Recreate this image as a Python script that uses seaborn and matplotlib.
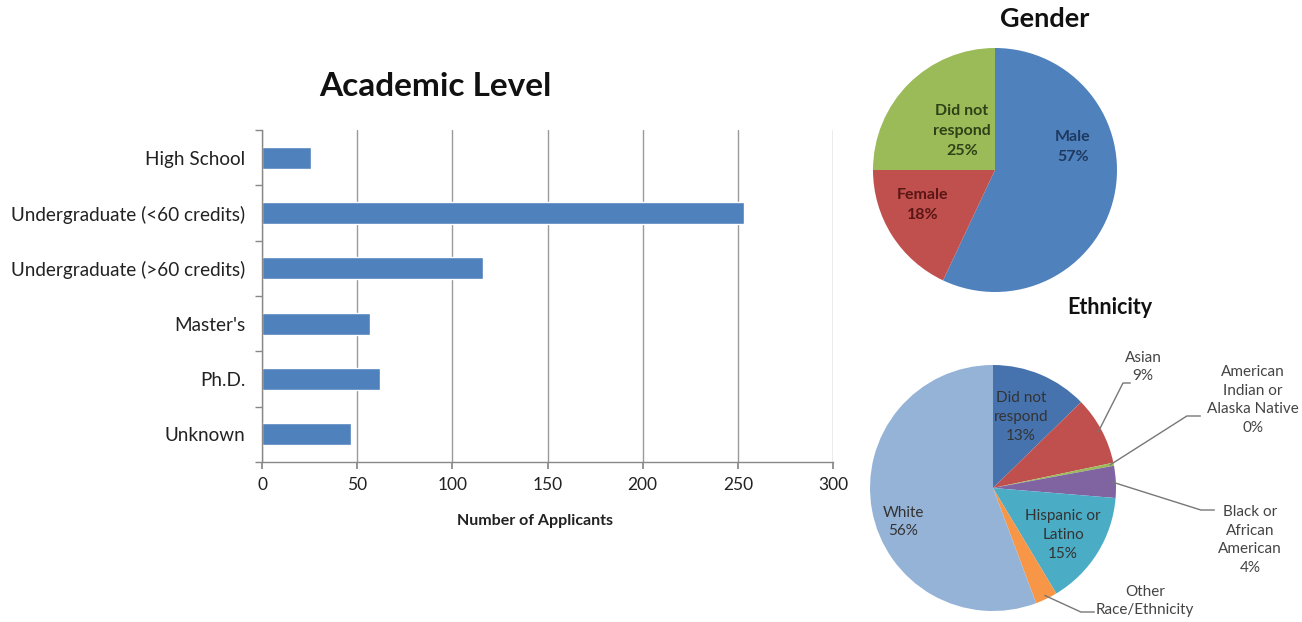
import numpy as np
import pandas as pd
import matplotlib
matplotlib.use("Agg")
import matplotlib.pyplot as plt
import seaborn as sns

# ---------------- data ----------------
levels = ["High School", "Undergraduate (<60 credits)", "Undergraduate (>60 credits)",
          "Master's", "Ph.D.", "Unknown"]
applicants = [26, 253, 116, 57, 62, 47]
x_ticks = [0, 50, 100, 150, 200, 250, 300]

gender_labels = ["Male", "Female", "Did not\nrespond"]
gender_values = [57, 18, 25]
gender_pct = ["57%", "18%", "25%"]

eth_labels = ["Did not\nrespond", "Asian", "American\nIndian or\nAlaska Native",
              "Black or\nAfrican\nAmerican", "Hispanic or\nLatino", "Other\nRace/Ethnicity", "White"]
eth_values = [12.7, 9.0, 0.4, 4.2, 15.1, 2.9, 55.7]
eth_pct = ["13%", "9%", "0%", "4%", "15%", "", "56%"]

# ---------------- style ----------------
sns.set_theme(style="white")
plt.rcParams['font.family'] = ['Lato', 'DejaVu Sans']

W, H = 1302, 622
fig = plt.figure(figsize=(W / 100, H / 100), dpi=100)
fig.patch.set_facecolor("white")

def box(x0, y0, x1, y1):
    return [x0 / W, 1 - y1 / H, (x1 - x0) / W, (y1 - y0) / H]

# ---------------- bar chart ----------------
ax = fig.add_axes(box(262, 130, 833, 462))
df = pd.DataFrame({"level": levels, "n": applicants})
sns.barplot(data=df, y="level", x="n", orient="h", color="#4F81BD",
            saturation=1, width=0.4, ax=ax)
ax.set_xlim(0, 300)
ax.set_ylim(len(levels) - 0.5, -0.5)
ax.set_xticks(x_ticks)
ax.set_xticklabels([str(t) for t in x_ticks], fontsize=12.5, color="#222222")
ax.set_yticks(range(len(levels)))
ax.set_yticklabels(levels, fontsize=13.6, color="#222222")
ax.set_yticks(np.arange(-0.5, len(levels), 1), minor=True)
ax.tick_params(axis="y", which="major", length=0, pad=12)
ax.tick_params(axis="y", which="minor", length=5, color="#888888", width=1, left=True)
ax.tick_params(axis="x", which="major", length=5, color="#888888", bottom=True, pad=6)
ax.xaxis.grid(True, color="#9a9a9a", linewidth=1)
ax.yaxis.grid(False)
ax.set_axisbelow(True)
for s in ["top", "right"]:
    ax.spines[s].set_visible(False)
for s in ["left", "bottom"]:
    ax.spines[s].set_color("#888888")
    ax.spines[s].set_linewidth(1)
ax.set_ylabel("")
ax.set_xlabel("")
fig.text(535 / W, 1 - 521 / H, "Number of Applicants", ha="center", va="center",
         fontsize=11.5, fontweight="bold", color="#222222")
fig.text(435 / W, 1 - 87 / H, "Academic Level", ha="center", va="center",
         fontsize=24, fontweight="bold", color="#111111")

# ---------------- gender pie ----------------
r = 122
axg = fig.add_axes(box(995 - r, 170 - r, 995 + r, 170 + r))
gcols = ["#4F81BD", "#C0504D", "#9BBB59"]
axg.pie(gender_values, colors=gcols, startangle=90, counterclock=False, radius=1,
        wedgeprops=dict(linewidth=0))
axg.set_xlim(-1, 1)
axg.set_ylim(-1, 1)
axg.set_aspect("equal")
axg.axis("off")

def gpos(px, py):
    return ((px - 995) / r, (170 - py) / r)

gtext_pos = [gpos(1073, 147), gpos(923, 205), gpos(962, 131)]
gtext_cols = ["#1F3A60", "#5A1614", "#2E4217"]
for lab, pct, pos, c in zip(gender_labels, gender_pct, gtext_pos, gtext_cols):
    axg.text(pos[0], pos[1], f"{lab}\n{pct}", ha="center", va="center", fontsize=11.5,
             fontweight="bold", color=c, linespacing=1.55)
fig.text(1045 / W, 1 - 19 / H, "Gender", ha="center", va="center", fontsize=19.5,
         fontweight="bold", color="#111111")

# ---------------- ethnicity pie ----------------
re_ = 123
cx, cy = 993, 488
axe = fig.add_axes(box(cx - re_, cy - re_, cx + re_, cy + re_))
ecols = ["#4672AE", "#C0504D", "#9BBB59", "#8064A2", "#4BACC6", "#F79646", "#95B3D7"]
wedges, _ = axe.pie(eth_values, colors=ecols, startangle=90, counterclock=False, radius=1,
                    wedgeprops=dict(linewidth=0))
axe.set_xlim(-1, 1)
axe.set_ylim(-1, 1)
axe.set_aspect("equal")
axe.axis("off")

def epos(px, py):
    return ((px - cx) / re_, (cy - py) / re_)

inside = {0: epos(1021, 417), 4: epos(1063, 535), 6: epos(903, 522)}
outside = {1: (epos(1143, 367), epos(1123, 383)),
           2: (epos(1253, 400), epos(1193, 416)),
           3: (epos(1250, 540), epos(1207, 510)),
           5: (epos(1145, 601), epos(1087, 612))}
for i, lab in enumerate(eth_labels):
    txt = lab + ("\n" + eth_pct[i] if eth_pct[i] else "")
    if i in inside:
        x, y = inside[i]
        axe.text(x, y, txt, ha="center", va="center", fontsize=11,
                 color="#333333", linespacing=1.45)
    else:
        (tx, ty), (lx, ly) = outside[i]
        axe.text(tx, ty, txt, ha="center", va="center", fontsize=11,
                 color="#444444", linespacing=1.4, clip_on=False)
        w = wedges[i]
        ang = np.deg2rad((w.theta1 + w.theta2) / 2)
        ex, ey = 0.97 * np.cos(ang), 0.97 * np.sin(ang)
        axe.plot([ex, lx - 0.05 if i != 1 else lx, lx + 0.06],
                 [ey, ly, ly], color="#777777", linewidth=1, clip_on=False)
fig.text(1110 / W, 1 - 308 / H, "Ethnicity", ha="center", va="center", fontsize=15.5,
         fontweight="bold", color="#111111")

fig.savefig("out.png", dpi=100, facecolor="white")
